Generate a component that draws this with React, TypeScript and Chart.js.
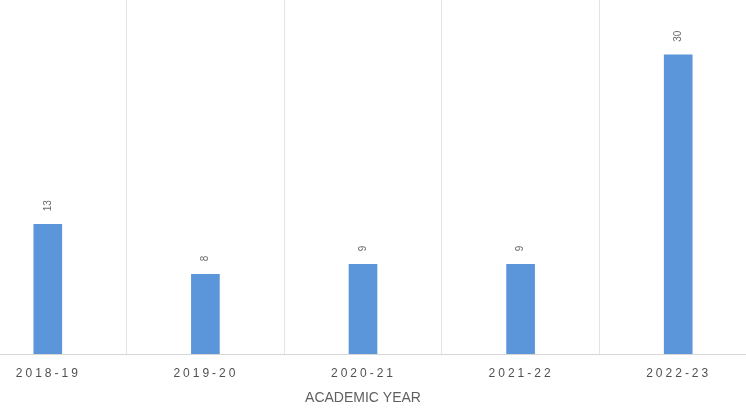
import React, { useEffect, useRef } from "react";
import { Chart, registerables } from "chart.js";

Chart.register(...registerables);

const categories = ["2018-19", "2019-20", "2020-21", "2021-22", "2022-23"];
const counts = [13, 8, 9, 9, 30];
const axisTitle = "ACADEMIC YEAR";

const valueLabels = {
  id: "valueLabels",
  afterDatasetsDraw(chart: any) {
    const ctx = chart.ctx;
    const meta = chart.getDatasetMeta(0);
    ctx.save();
    ctx.fillStyle = "#6b6b6b";
    ctx.font = "10px 'Liberation Sans', Arial, sans-serif";
    ctx.textAlign = "left";
    ctx.textBaseline = "middle";
    meta.data.forEach((el: any, i: number) => {
      ctx.save();
      ctx.translate(el.x, el.y - 13);
      ctx.rotate(-Math.PI / 2);
      ctx.fillText(String(counts[i]), 0, 0);
      ctx.restore();
    });
    ctx.restore();
  },
};

const axisText = {
  id: "axisText",
  afterDraw(chart: any) {
    const ctx = chart.ctx;
    const xs = chart.scales.x;
    ctx.save();
    ctx.fillStyle = "#505050";
    ctx.textBaseline = "middle";
    ctx.textAlign = "left";
    ctx.font = "12px 'Liberation Sans', Arial, sans-serif";
    const spacing = 3;
    (ctx as any).letterSpacing = spacing + "px";
    categories.forEach((lab, i) => {
      const x = xs.getPixelForValue(i);
      const w = ctx.measureText(lab).width - spacing;
      ctx.fillText(lab, x - w / 2 - 1, 374);
    });
    (ctx as any).letterSpacing = "0px";
    ctx.font = "14px 'Liberation Sans', Arial, sans-serif";
    ctx.fillStyle = "#606060";
    ctx.textAlign = "center";
    ctx.fillText(axisTitle, (xs.left + xs.right) / 2, 398);
    ctx.restore();
  },
};

export default function App() {
  const ref = useRef<HTMLCanvasElement | null>(null);
  useEffect(() => {
    if (!ref.current) return;
    const chart = new Chart(ref.current, {
      type: "bar",
      data: {
        labels: categories,
        datasets: [
          {
            data: counts,
            backgroundColor: "#5b95da",
            borderWidth: 0,
            barThickness: 28,
          },
        ],
      },
      options: {
        responsive: false,
        animation: false,
        layout: { padding: 0 },
        plugins: { legend: { display: false }, tooltip: { enabled: false } },
        scales: {
          x: {
            offset: true,
            grid: {
              offset: true,
              color: "#e4e4e4",
              lineWidth: 1,
              drawTicks: false,
            },
            border: { display: true, color: "#d6d6d6", width: 1 },
            ticks: { display: false },
            title: { display: false, text: axisTitle },
            afterFit(scale: any) {
              scale.height = 56;
            },
          },
          y: {
            display: false,
            min: 0,
            max: 35.5,
          },
        },
      },
      plugins: [valueLabels, axisText],
    });
    return () => chart.destroy();
  }, []);
  return (
    <div
      style={{
        position: "fixed",
        left: 0,
        top: 0,
        width: 746,
        height: 410,
        overflow: "hidden",
        background: "#ffffff",
      }}
    >
      <canvas
        ref={ref}
        width={788}
        height={410}
        style={{ position: "absolute", left: -31, top: 0, width: 788, height: 410 }}
      />
    </div>
  );
}
